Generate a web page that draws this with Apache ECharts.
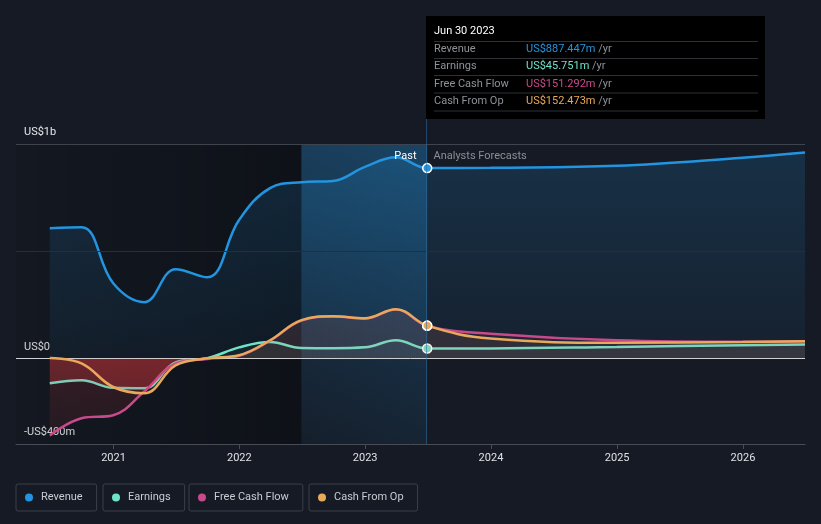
<!DOCTYPE html>
<html>
<head>
<meta charset="utf-8">
<script src="https://cdn.jsdelivr.net/npm/echarts@6/dist/echarts.min.js"></script>
<style>
html,body{margin:0;padding:0;background:#151a24;}
#c{width:821px;height:524px;}
</style>
</head>
<body>
<div id="c"></div>
<script>
// ---- data ----
const dates = ['2020-06-30','2020-09-30','2020-12-31','2021-03-31','2021-06-30','2021-09-30','2021-12-31',
  '2022-03-31','2022-06-30','2022-09-30','2022-12-31','2023-03-31','2023-06-30',
  '2023-12-31','2024-12-31','2025-12-31','2026-06-30'];
const revenue      = [607, 612, 350, 262, 416, 378, 645, 794, 822, 827, 893, 938, 887.447, 889, 898, 936, 960];
const earnings     = [-117, -103, -138, -140, -19, 0, 51, 76, 48, 47, 51, 84, 45.751, 46, 53, 61, 64];
const freeCashFlow = [-360, -280, -266, -155, -25, -3, 12, 82, 176, 195, 185, 228, 151.292, 115, 84, 77, 80];
const cashFromOp   = [1, -24, -134, -163, -33, 0, 14, 84, 178, 196, 187, 229, 152.473, 92, 73, 76, 80];
const seriesNames  = ['Revenue', 'Earnings', 'Free Cash Flow', 'Cash From Op'];
const yearTicks    = ['2021-01-01','2022-01-01','2023-01-01','2024-01-01','2025-01-01','2026-01-01'];
const yTickLabels  = {'-400': '-US$400m', '0': 'US$0', '1000': 'US$1b'};
const gridValues   = [500, 1000];
const axisStart = '2020-03-24', axisEnd = '2026-06-30';
const bandStart = '2022-06-30', pastEnd = '2023-06-30';
const tooltipTitle = 'Jun 30 2023';
const tooltipValues = ['US$887.447m', 'US$45.751m', 'US$151.292m', 'US$152.473m'];
const pastText = 'Past', forecastText = 'Analysts Forecasts';

// ---- helpers ----
function t(s){ const p = s.split('-').map(Number); return Date.UTC(p[0], p[1]-1, p[2]); }
const FONT = 'Roboto, "Noto Sans", sans-serif';
const COLORS = ['#2394df', '#6fe3c9', '#c94a8b', '#e9a95c'];
const G = {left:16, right:16, top:144, bottom:80};
const plotH = 524 - G.top - G.bottom;
const zeroOff = (1000 - 0) / 1400;

function points(vals, color){
  return dates.map((d, i) => {
    const it = {value: [t(d), vals[i]]};
    if (d === pastEnd) {
      it.symbol = 'circle'; it.symbolSize = 9;
      it.itemStyle = {color: color, borderColor: '#ffffff', borderWidth: 1.5};
    }
    return it;
  });
}
function splitFill(posColor, negColorTop, negColorBottom){
  return {type:'linear', global:true, x:0, y:G.top, x2:0, y2:G.top+plotH, colorStops:[
    {offset:0, color:posColor},{offset:zeroOff, color:posColor},
    {offset:zeroOff+0.001, color:negColorTop},{offset:1, color:negColorBottom}]};
}
const valueLists = [revenue, earnings, freeCashFlow, cashFromOp];
const fills = [
  {type:'linear', x:0, y:0, x2:0, y2:1, colorStops:[{offset:0,color:'rgba(35,148,223,0.26)'},{offset:1,color:'rgba(35,148,223,0.08)'}]},
  splitFill('rgba(111,227,201,0.08)', 'rgba(232,58,62,0.40)', 'rgba(232,58,62,0.28)'),
  splitFill('rgba(201,74,139,0.10)', 'rgba(232,58,62,0.24)', 'rgba(232,58,62,0.10)'),
  splitFill('rgba(232,165,90,0.10)', 'rgba(232,58,62,0.16)', 'rgba(232,58,62,0.10)')
];

const series = [
  {
    type:'line', data:[], z:1, silent:true,
    markArea:{silent:true, data:[
      [{xAxis:t(axisStart), itemStyle:{color:{type:'linear',x:0,y:0,x2:1,y2:0,colorStops:[{offset:0,color:'rgba(0,0,0,0.08)'},{offset:1,color:'rgba(0,0,0,0.34)'}]}}},{xAxis:t(bandStart)}],
      [{xAxis:t(bandStart), itemStyle:{color:{type:'linear',x:0,y:1,x2:1,y2:0,colorStops:[{offset:0,color:'rgba(35,148,223,0.04)'},{offset:1,color:'rgba(35,148,223,0.34)'}]}}},{xAxis:t(pastEnd)}]
    ]},
    markLine:{silent:true, symbol:['none','none'], label:{show:false},
      data: gridValues.map(v => ({yAxis:v, lineStyle:{color: v===1000 ? '#3e444e' : '#272e39', width:1, type:'solid'}}))}
  }
];
valueLists.forEach((vals, i) => {
  series.push({
    name: seriesNames[i], type:'line', z: 2 + i, smooth: 0.4,
    symbol:'none', showSymbol:true, showAllSymbol:true,
    lineStyle:{color: COLORS[i], width: 2.5},
    itemStyle:{color: COLORS[i]},
    areaStyle:{color: fills[i], origin: 0},
    data: points(vals, COLORS[i])
  });
});
series.push({
  type:'line', data:[], z:20, silent:true,
  markLine:{silent:true, symbol:['none','none'], label:{show:false},
    data:[{yAxis:0, lineStyle:{color:'#cfd2d6', width:1, type:'solid'}}]}
});

const legendLefts = [16, 103, 189, 309];
const legends = seriesNames.map((n, i) => ({
  data:[{name:n, icon:'circle'}], left: legendLefts[i], top: 484,
  orient:'horizontal', itemWidth:14, itemHeight:8,
  padding:[8, 14, 8, 9], borderColor:'#3a3f49', borderWidth:1, borderRadius:2,
  textStyle:{color:'#c8ccd2', fontSize:11, fontFamily:FONT},
  selectedMode:false
}));

const chart = echarts.init(document.getElementById('c'));
chart.setOption({
  animation:false,
  backgroundColor:'#151a24',
  grid:{left:G.left, right:G.right, top:G.top, bottom:G.bottom, containLabel:false},
  legend: legends,
  xAxis:{type:'value', min:t(axisStart), max:t(axisEnd), scale:true,
    axisLine:{show:true, onZero:false, lineStyle:{color:'#474c55', width:1}},
    axisTick:{show:true, length:5, lineStyle:{color:'#474c55'}, customValues: yearTicks.map(t)},
    axisLabel:{color:'#dfe1e4', fontSize:11, fontFamily:FONT, margin:9,
      customValues: yearTicks.map(t),
      formatter: v => String(new Date(v).getUTCFullYear())},
    splitLine:{show:false}},
  yAxis:{type:'value', min:-400, max:1000, interval:100,
    axisLine:{show:false}, axisTick:{show:false}, splitLine:{show:false},
    axisLabel:{inside:true, margin:8, color:'#e6e8ea', fontSize:11, fontFamily:FONT,
      verticalAlign:'bottom', padding:[0,0,6,0],
      formatter: v => yTickLabels[String(v)] || ''}},
  series: series
});

// ---- overlay ----
const px = chart.convertToPixel({xAxisIndex:0, yAxisIndex:0}, [t(pastEnd), 1000]);
const x0 = Math.round(px[0]) - 0.5;
const boxX = x0 - 0.5, boxY = 16, boxW = 339, boxH = 103;
const rowY = [49, 66.5, 84, 101];
const sepY = [41.5, 58.5, 75.5, 93, 111];
const els = [
  {type:'line', silent:true, z:30, shape:{x1:x0, y1:boxY+boxH, x2:x0, y2:G.top+plotH},
    style:{stroke:'rgba(48,110,160,0.55)', lineWidth:1}},
  {type:'rect', silent:true, z:40, shape:{x:boxX, y:boxY, width:boxW, height:boxH}, style:{fill:'#000000'}},
  {type:'text', silent:true, z:41, x:boxX+8, y:31,
    style:{text:tooltipTitle, fill:'#ffffff', font:'11px ' + FONT, verticalAlign:'middle', align:'left'}}
];
sepY.forEach(y => els.push({type:'line', silent:true, z:41,
  shape:{x1:boxX+8, y1:y, x2:boxX+332, y2:y}, style:{stroke:'#2e3035', lineWidth:1}}));
seriesNames.forEach((n, i) => {
  els.push({type:'text', silent:true, z:41, x:boxX+8, y:rowY[i],
    style:{text:n, fill:'#8e9298', font:'11px ' + FONT, verticalAlign:'middle', align:'left'}});
  els.push({type:'text', silent:true, z:41, x:boxX+100, y:rowY[i],
    style:{text:'{v|' + tooltipValues[i] + '} {u|/yr}', verticalAlign:'middle', align:'left',
      font:'11px ' + FONT,
      rich:{v:{fill:COLORS[i], fontSize:11, fontFamily:FONT}, u:{fill:'#8e9298', fontSize:11, fontFamily:FONT}}}});
});
els.push({type:'text', silent:true, z:30, x:x0-10, y:156,
  style:{text:pastText, fill:'#ffffff', font:'11px ' + FONT, align:'right', verticalAlign:'middle'}});
els.push({type:'text', silent:true, z:30, x:x0+7, y:156,
  style:{text:forecastText, fill:'#8a8f96', font:'11px ' + FONT, align:'left', verticalAlign:'middle'}});
chart.setOption({graphic: els});
</script>
</body>
</html>
